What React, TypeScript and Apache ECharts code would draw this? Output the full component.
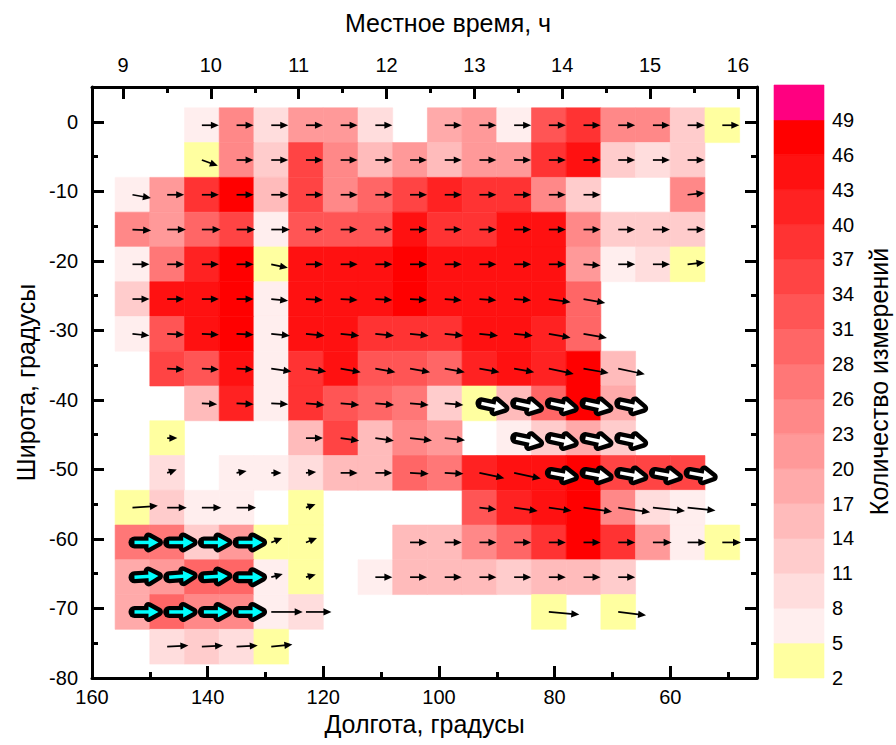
import React, { useEffect, useRef } from 'react';
import * as echarts from 'echarts';

// Column centres (longitude, deg E) and row centres (latitude, deg)
const LONS = [153, 147, 141, 135, 129, 123, 117, 111, 105, 99, 93, 87, 81, 75, 69, 63, 57, 51];
const LATS = [-0.5, -5.5, -10.5, -15.5, -20.5, -25.5, -30.5, -35.5, -40.5, -45.5, -50.5, -55.5, -60.5, -65.5, -70.5, -75.5];

// Number of measurements per cell (0 = no data)
const COUNTS = [
  [0, 0, 6, 24, 9, 21, 21, 9, 0, 18, 21, 6, 32, 38, 23, 24, 12, 3],
  [0, 0, 3, 24, 12, 35, 24, 15, 21, 15, 21, 21, 38, 44, 12, 9, 12, 0],
  [6, 21, 38, 47, 15, 35, 23, 29, 35, 41, 38, 38, 24, 12, 0, 0, 23, 0],
  [24, 21, 29, 35, 6, 32, 32, 32, 44, 38, 38, 44, 44, 24, 12, 12, 12, 0],
  [6, 27, 41, 47, 3, 44, 44, 44, 47, 44, 44, 44, 44, 21, 6, 9, 3, 0],
  [12, 44, 44, 47, 6, 44, 44, 44, 47, 44, 44, 44, 44, 29, 0, 0, 0, 0],
  [6, 32, 44, 47, 6, 44, 44, 38, 38, 38, 44, 44, 41, 29, 0, 0, 0, 0],
  [0, 35, 32, 44, 6, 38, 44, 32, 32, 29, 41, 44, 41, 47, 15, 0, 0, 0],
  [0, 0, 15, 41, 6, 38, 32, 29, 27, 12, 3, 15, 29, 47, 18, 0, 0, 0],
  [0, 3, 0, 0, 0, 15, 35, 15, 24, 21, 0, 6, 12, 18, 12, 0, 0, 0],
  [0, 9, 0, 6, 6, 9, 15, 15, 29, 27, 41, 44, 44, 47, 35, 35, 35, 0],
  [3, 12, 6, 6, 0, 3, 0, 0, 0, 0, 32, 41, 44, 47, 24, 9, 6, 0],
  [27, 27, 12, 21, 3, 3, 0, 0, 15, 15, 23, 29, 38, 47, 38, 21, 6, 3],
  [18, 21, 29, 29, 6, 3, 0, 6, 15, 15, 15, 12, 15, 15, 12, 0, 0, 0],
  [18, 29, 23, 23, 6, 9, 0, 0, 0, 0, 0, 0, 3, 0, 3, 0, 0, 0],
  [0, 9, 12, 9, 3, 0, 0, 0, 0, 0, 0, 0, 0, 0, 0, 0, 0, 0],
];

// Mean drift direction (deg, counter-clockwise from east) per cell
const ANGLES = [
  [0, 0, 0, 0, 0, 0, 0, 0, 0, 0, 0, 0, 0, 0, 0, 0, 0, 0],
  [0, 0, -20, 0, 0, 0, 0, 0, 0, 0, 0, 0, 0, 0, 0, 0, 0, 0],
  [-10, 0, 0, 0, 0, 0, 0, 0, 0, 0, 0, 0, 0, 0, 0, 0, 6, 0],
  [-3, 0, 0, 0, 0, 0, 0, 0, 0, 0, 0, 0, 0, 0, 0, 0, 0, 0],
  [0, 0, 0, 0, -12, 0, 0, 0, 0, 0, 0, 0, 0, -4, 0, 0, 6, 0],
  [0, 0, 0, 0, -6, -3, -3, -3, -3, -4, -4, -4, -8, -10, 0, 0, 0, 0],
  [-6, -3, -3, -3, -6, -6, -6, -6, -6, -6, -6, -6, -10, -10, 0, 0, 0, 0],
  [0, -3, -3, -3, -8, -8, -10, -10, -10, -10, -10, -10, -12, -10, -12, 0, 0, 0],
  [0, 0, -3, -3, -3, -5, -5, -5, -5, -5, 0, 0, 0, 0, 0, 0, 0, 0],
  [0, 0, 0, 0, 0, 0, -8, -8, -6, -6, 0, 0, 0, 0, 0, 0, 0, 0],
  [0, 20, 0, 10, 0, 5, 0, 0, -3, -3, -12, -12, 0, 0, 0, 0, 0, 0],
  [4, 0, 0, 0, 0, 20, 0, 0, 0, 0, -6, -8, -8, -8, -8, -6, -6, 0],
  [0, 0, 0, 0, 22, 22, 0, 0, 0, 0, 0, 0, 0, 0, 0, 0, 0, 0],
  [0, 0, 0, 0, 15, 15, 0, 0, 0, 0, 0, 0, 0, 0, 0, 0, 0, 0],
  [0, 0, 0, 0, 0, 0, 0, 0, 0, 0, 0, 0, -5, 0, -7, 0, 0, 0],
  [0, 3, 3, 3, 6, 0, 0, 0, 0, 0, 0, 0, 0, 0, 0, 0, 0, 0],
];

// Relative drift speed per cell
const MAGS = [
  [0, 0, 1, 1, 1, 1, 1, 1, 0, 1, 1, 1, 1, 1, 1, 1, 1, 1],
  [0, 0, 1, 1, 1, 1, 1, 1, 1, 1, 1, 1, 1, 1, 1, 1, 1, 0],
  [1.1, 1, 1, 1, 1, 1, 1, 1, 1, 1, 1, 1, 1, 1, 0, 0, 1, 0],
  [1.1, 1.1, 1.1, 1.1, 1.1, 1, 1, 1, 1, 1, 1, 1, 1, 1, 1, 1, 1, 0],
  [1, 1, 1, 1, 1, 1, 1, 1, 1, 1, 1, 1, 1, 1, 1, 1, 1, 0],
  [1, 1, 1, 1, 1, 1, 1, 1, 1, 1, 1, 1, 1.3, 1.3, 0, 0, 0, 0],
  [1, 1, 1, 1, 1.1, 1.1, 1.1, 1.1, 1.1, 1.1, 1.1, 1.1, 1.3, 1.4, 0, 0, 0, 0],
  [0, 1, 1, 1, 1.2, 1.2, 1.2, 1.2, 1.2, 1.2, 1.2, 1.2, 1.5, 1.5, 1.6, 0, 0, 0],
  [0, 0, 0.9, 1, 1, 1.1, 1.1, 1.1, 1.1, 1.1, 0, 0, 0, 0, 0, 0, 0, 0],
  [0, 0.6, 0, 0, 0, 1, 1.1, 1.1, 1.3, 1.2, 0, 0, 0, 0, 0, 0, 0, 0],
  [0, 0.6, 0, 0.6, 0.6, 0.6, 1, 1, 1.1, 1.1, 1.5, 1.6, 0, 0, 0, 0, 0, 0],
  [1.5, 1.15, 1.15, 1.15, 0, 0.6, 0, 0, 0, 0, 1, 1.4, 1.35, 1.7, 1.9, 1.9, 1.65, 0],
  [0, 0, 0, 0, 0.7, 0.7, 0, 0, 1, 1, 1, 1, 1, 1, 1, 1.1, 1.1, 1.1],
  [0, 0, 0, 0, 0.7, 0.6, 0, 1, 1, 1, 1, 1, 1, 1, 1, 0, 0, 0],
  [0, 0, 0, 0, 1.85, 1.5, 0, 0, 0, 0, 0, 0, 1.8, 0, 1.65, 0, 0, 0],
  [0, 1.25, 1.25, 1.25, 1.25, 0, 0, 0, 0, 0, 0, 0, 0, 0, 0, 0, 0, 0],
];

// Highlighted (large) arrows: [row, col, angle]
const WHITE_ARROWS = [
  [8, 10, -12], [8, 11, -12], [8, 12, -12], [8, 13, -12], [8, 14, -12],
  [9, 11, -12], [9, 12, -12], [9, 13, -12], [9, 14, -12],
  [10, 12, -10], [10, 13, -10], [10, 14, -10], [10, 15, -10], [10, 16, -10],
];
const CYAN_ARROWS = [
  [12, 0, 0], [12, 1, 0], [12, 2, 0], [12, 3, 0],
  [13, 0, 3], [13, 1, 4], [13, 2, 3], [13, 3, 0],
  [14, 0, 0], [14, 1, 0], [14, 2, 0], [14, 3, 0],
];

// Colour scale
const LEVELS = [2, 5, 8, 11, 14, 17, 20, 23, 26, 28, 31, 34, 37, 40, 43, 46, 49];
const LEVEL_COLORS = [
  '#FFFFA0', '#FFEEEE', '#FFDDDD', '#FFCCCC', '#FFBBBB', '#FFAAAA', '#FF9999', '#FF8888',
  '#FF7777', '#FF6666', '#FF5555', '#FF4444', '#FF3333', '#FF2222', '#FF1111', '#FF0000', '#FF0080',
];

const LON_TICKS = [160, 140, 120, 100, 80, 60];
const LON_MINOR = [150, 130, 110, 90, 70, 50];
const LAT_TICKS = [0, -10, -20, -30, -40, -50, -60, -70, -80];
const LAT_MINOR = [-5, -15, -25, -35, -45, -55, -65, -75];
const TIME_TICKS = [9, 10, 11, 12, 13, 14, 15, 16];
const TIME_MINOR = [9.5, 10.5, 11.5, 12.5, 13.5, 14.5, 15.5];

const FONT = 'Liberation Sans, Arial, sans-serif';

function colorFor(v: number) {
  let idx = 0;
  for (let i = 0; i < LEVELS.length; i++) if (v >= LEVELS[i]) idx = i;
  return LEVEL_COLORS[idx];
}

function arrowGeom(cx: number, cy: number, angDeg: number, len: number, headLen: number, headHalf: number) {
  const a = (angDeg * Math.PI) / 180;
  const ux = Math.cos(a), uy = -Math.sin(a);
  const px = -uy, py = ux;
  const tip = [cx + ux * len, cy + uy * len];
  const base = [tip[0] - ux * headLen, tip[1] - uy * headLen];
  const left = [base[0] + px * headHalf, base[1] + py * headHalf];
  const right = [base[0] - px * headHalf, base[1] - py * headHalf];
  return { tip, base, left, right, ux, uy };
}

export default function App() {
  const ref = useRef<HTMLDivElement>(null);
  useEffect(() => {
    document.body.style.margin = '0';
    const chart = echarts.init(ref.current!, null, { renderer: 'svg' });

    const isBig = (r: number, c: number) =>
      WHITE_ARROWS.some((a) => a[0] === r && a[1] === c) || CYAN_ARROWS.some((a) => a[0] === r && a[1] === c);

    const cellData: number[][] = [];
    const arrowData: number[][] = [];
    COUNTS.forEach((row, r) =>
      row.forEach((v, c) => {
        if (!v) return;
        cellData.push([LONS[c], LATS[r], v]);
        if (!isBig(r, c)) arrowData.push([LONS[c], LATS[r], ANGLES[r][c], MAGS[r][c]]);
      })
    );
    const bigData: number[][] = [
      ...WHITE_ARROWS.map(([r, c, a]) => [LONS[c], LATS[r], a, 0]),
      ...CYAN_ARROWS.map(([r, c, a]) => [LONS[c], LATS[r], a, 1]),
    ];
    const barData = LEVEL_COLORS.map((_, i) => [0, i]);

    const axisLine = { show: true, onZero: false, lineStyle: { color: '#000', width: 3 } };
    const noLine = { show: false, onZero: false };
    const labelStyle = { color: '#000', fontSize: 20, fontFamily: FONT };

    const option: any = {
      animation: false,
      backgroundColor: '#fff',
      grid: [
        { left: 92, top: 87, width: 665, height: 591 },
        { left: 774, top: 85, width: 50, height: 593 },
      ],
      graphic: [
        {
          type: 'text',
          x: 448,
          y: 23,
          style: { text: 'Местное время, ч', font: `25px ${FONT}`, fill: '#000', textAlign: 'center', textVerticalAlign: 'middle' },
        },
      ],
      xAxis: [
        {
          gridIndex: 0, type: 'value', position: 'bottom', min: 45, max: 160, inverse: true,
          axisLine,
          axisTick: { inside: true, length: 12, lineStyle: { color: '#000', width: 3 }, customValues: LON_TICKS },
          axisLabel: { ...labelStyle, margin: 9, customValues: LON_TICKS },
          splitLine: { show: false },
          name: 'Долгота, градусы', nameLocation: 'middle', nameGap: 33,
          nameTextStyle: { color: '#000', fontSize: 25, fontFamily: FONT },
        },
        {
          gridIndex: 0, type: 'value', position: 'bottom', min: 45, max: 160, inverse: true,
          axisLine: noLine,
          axisTick: { inside: true, length: 6, lineStyle: { color: '#000', width: 3 }, customValues: LON_MINOR },
          axisLabel: { show: false }, splitLine: { show: false },
        },
        {
          gridIndex: 0, type: 'value', position: 'top', min: 8.647, max: 16.217,
          axisLine,
          axisTick: { inside: true, length: 12, lineStyle: { color: '#000', width: 3 }, customValues: TIME_TICKS },
          axisLabel: { ...labelStyle, margin: 12, customValues: TIME_TICKS },
          splitLine: { show: false },
        },
        {
          gridIndex: 0, type: 'value', position: 'top', min: 8.647, max: 16.217,
          axisLine: noLine,
          axisTick: { inside: true, length: 6, lineStyle: { color: '#000', width: 3 }, customValues: TIME_MINOR },
          axisLabel: { show: false }, splitLine: { show: false },
        },
        {
          gridIndex: 1, type: 'value', min: 0, max: 1, show: false,
        },
      ],
      yAxis: [
        {
          gridIndex: 0, type: 'value', position: 'left', min: -80, max: 5,
          axisLine,
          axisTick: { inside: true, length: 12, lineStyle: { color: '#000', width: 3 }, customValues: LAT_TICKS },
          axisLabel: { ...labelStyle, margin: 14, customValues: LAT_TICKS },
          splitLine: { show: false },
          name: 'Широта, градусы', nameLocation: 'middle', nameGap: 53,
          nameTextStyle: { color: '#000', fontSize: 25, fontFamily: FONT },
        },
        {
          gridIndex: 0, type: 'value', position: 'left', min: -80, max: 5,
          axisLine: noLine,
          axisTick: { inside: true, length: 6, lineStyle: { color: '#000', width: 3 }, customValues: LAT_MINOR },
          axisLabel: { show: false }, splitLine: { show: false },
        },
        {
          gridIndex: 0, type: 'value', position: 'right', min: -80, max: 5,
          axisLine,
          axisTick: { inside: true, length: 12, lineStyle: { color: '#000', width: 3 }, customValues: LAT_TICKS },
          axisLabel: { show: false }, splitLine: { show: false },
        },
        {
          gridIndex: 0, type: 'value', position: 'right', min: -80, max: 5,
          axisLine: noLine,
          axisTick: { inside: true, length: 6, lineStyle: { color: '#000', width: 3 }, customValues: LAT_MINOR },
          axisLabel: { show: false }, splitLine: { show: false },
        },
        {
          gridIndex: 1, type: 'value', position: 'right', min: 0, max: 17, interval: 1,
          axisLine: noLine, axisTick: { show: false }, splitLine: { show: false },
          axisLabel: {
            ...labelStyle, margin: 8,
            formatter: (v: number) => (v < LEVELS.length ? String(LEVELS[v]) : ''),
          },
          name: 'Количество измерений', nameLocation: 'middle', nameRotate: 90, nameGap: 42,
          nameTextStyle: { color: '#000', fontSize: 25, fontFamily: FONT },
        },
      ],
      series: [
        {
          type: 'custom', name: 'cells', xAxisIndex: 0, yAxisIndex: 0,
          coordinateSystem: 'cartesian2d', encode: { x: 0, y: 1 }, data: cellData,
          renderItem: (_p: any, api: any) => {
            const lon = api.value(0), lat = api.value(1), v = api.value(2);
            const p1 = api.coord([lon + 3, lat + 2.5]);
            const p2 = api.coord([lon - 3, lat - 2.5]);
            const col = colorFor(v);
            return {
              type: 'rect',
              shape: {
                x: Math.min(p1[0], p2[0]), y: Math.min(p1[1], p2[1]),
                width: Math.abs(p2[0] - p1[0]), height: Math.abs(p2[1] - p1[1]),
              },
              style: { fill: col, stroke: col, lineWidth: 0.6 },
            };
          },
        },
        {
          type: 'custom', name: 'arrows', xAxisIndex: 0, yAxisIndex: 0,
          coordinateSystem: 'cartesian2d', encode: { x: 0, y: 1 }, data: arrowData,
          renderItem: (_p: any, api: any) => {
            const c = api.coord([api.value(0), api.value(1)]);
            const len = 17 * api.value(3);
            const g = arrowGeom(c[0], c[1], api.value(2), len, 8, 3.6);
            return {
              type: 'group',
              children: [
                {
                  type: 'line',
                  shape: { x1: c[0], y1: c[1], x2: g.base[0] + g.ux * 2, y2: g.base[1] + g.uy * 2 },
                  style: { stroke: '#000', lineWidth: 1.7 },
                },
                {
                  type: 'polygon',
                  shape: { points: [g.tip, g.left, g.right] },
                  style: { fill: '#000' },
                },
              ],
            };
          },
        },
        {
          type: 'custom', name: 'big arrows', xAxisIndex: 0, yAxisIndex: 0,
          coordinateSystem: 'cartesian2d', encode: { x: 0, y: 1 }, data: bigData,
          renderItem: (_p: any, api: any) => {
            const c = api.coord([api.value(0), api.value(1)]);
            const fill = api.value(3) === 1 ? '#00FFFF' : '#FFFFFF';
            const g = arrowGeom(c[0] + 2, c[1], api.value(2), 24, 10, 5.5);
            const shaftEnd = [g.base[0] + g.ux * 2, g.base[1] + g.uy * 2];
            return {
              type: 'group',
              children: [
                {
                  type: 'line',
                  shape: { x1: c[0] + 2, y1: c[1], x2: shaftEnd[0], y2: shaftEnd[1] },
                  style: { stroke: '#000', lineWidth: 12, lineCap: 'round' },
                },
                {
                  type: 'polygon',
                  shape: { points: [g.tip, g.left, g.right] },
                  style: { fill: '#000', stroke: '#000', lineWidth: 9, lineJoin: 'round' },
                },
                {
                  type: 'line',
                  shape: { x1: c[0] + 2, y1: c[1], x2: shaftEnd[0], y2: shaftEnd[1] },
                  style: { stroke: fill, lineWidth: 3.5 },
                },
                {
                  type: 'polygon',
                  shape: { points: [g.tip, g.left, g.right] },
                  style: { fill },
                },
              ],
            };
          },
        },
        {
          type: 'custom', name: 'colorbar', xAxisIndex: 4, yAxisIndex: 4,
          coordinateSystem: 'cartesian2d', encode: { x: 0, y: 1 }, data: barData,
          renderItem: (_p: any, api: any) => {
            const i = api.value(1);
            const p1 = api.coord([0, i + 1]);
            const p2 = api.coord([1, i]);
            const col = LEVEL_COLORS[i];
            return {
              type: 'rect',
              shape: { x: p1[0], y: p1[1], width: p2[0] - p1[0], height: p2[1] - p1[1] },
              style: { fill: col, stroke: col, lineWidth: 0.6 },
            };
          },
        },
      ],
    };

    chart.setOption(option);
    return () => chart.dispose();
  }, []);
  return <div ref={ref} style={{ width: 896, height: 745 }} />;
}
